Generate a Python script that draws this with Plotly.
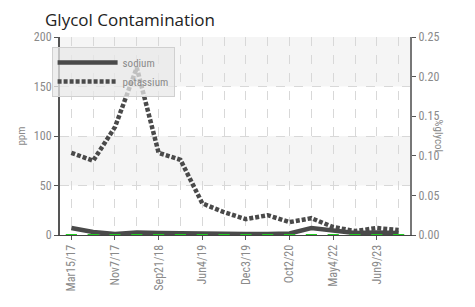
import plotly.graph_objects as go

title_text = "Glycol Contamination"
tick_labels = ["Mar15/17", "Nov7/17", "Sep21/18", "Jun4/19", "Dec3/19", "Oct2/20", "May4/22", "Jun9/23"]
sodium = [7, 3, 1, 2.5, 2, 1.5, 1.5, 1, 1, 1, 1.5, 7, 4, 2, 2.5, 2]
potassium = [83, 75, 109, 169, 83, 76, 32, 23, 16, 20, 13, 17, 8, 4, 7, 5]
glycol = [0] * 16

n = len(sodium)
xs = list(range(n))
tick_pos = xs[::2]

label_font = "Liberation Sans Narrow, Roboto Condensed, Arial Narrow, sans-serif"
gray = "#8a8a8a"

W, H = 467, 299
L, T, R, B = 33, 29, 65, 72
plot_w = W - L - R

fig = go.Figure()
fig.add_trace(go.Scatter(x=xs, y=glycol, yaxis="y2", mode="markers", name="glycol",
                         marker=dict(symbol="line-ew", size=8, line=dict(color="#22cc22", width=2)),
                         showlegend=False, hoverinfo="skip"))
fig.add_trace(go.Scatter(x=xs, y=sodium, mode="lines", name="sodium",
                         line=dict(color="#4a4a4a", width=4.5)))
fig.add_trace(go.Scatter(x=xs, y=potassium, mode="lines", name="potassium",
                         line=dict(color="#4a4a4a", width=4.5, dash="4px,2px")))

shapes = []
for lo, hi in [(150, 200), (50, 100)]:
    shapes.append(dict(type="rect", xref="paper", yref="y", x0=0, x1=1, y0=lo, y1=hi,
                       fillcolor="#f5f5f5", line=dict(width=0), layer="below"))

fig.update_layout(
    width=W, height=H,
    margin=dict(l=L, r=R, t=T, b=B),
    paper_bgcolor="white", plot_bgcolor="white",
    title=dict(text=title_text, x=37 / W, xanchor="left", xref="container",
               y=1 - 12 / H, yanchor="middle", yref="container",
               font=dict(family="Open Sans, sans-serif", size=17, color="#222222")),
    shapes=shapes,
    showlegend=True,
    legend=dict(x=-0.024, y=0.95, xanchor="left", yanchor="top",
                bgcolor="rgba(232,232,232,0.75)", bordercolor="#d0d0d0", borderwidth=1,
                font=dict(family=label_font, size=11, color=gray),
                tracegroupgap=0, itemwidth=60),
    xaxis=dict(range=[-0.52, n - 1 + 0.52], tickmode="array", tickvals=tick_pos, ticktext=tick_labels,
               tickangle=-90, ticks="outside", ticklen=4, tickcolor="#555",
               tickfont=dict(family=label_font, size=12, color=gray),
               showline=True, linecolor="#444", linewidth=1,
               showgrid=True, gridcolor="#d8d8d8", griddash="dash", gridwidth=1,
               minor=dict(tickmode="linear", tick0=0, dtick=1, showgrid=True,
                          gridcolor="#d8d8d8", griddash="dash", gridwidth=1),
               zeroline=False),
    yaxis=dict(range=[0, 200], tickmode="linear", tick0=0, dtick=50,
               ticks="outside", ticklen=4, tickcolor="#555",
               tickfont=dict(family=label_font, size=12, color=gray),
               showline=True, linecolor="#555", linewidth=2,
               showgrid=True, gridcolor="#d8d8d8", griddash="dash",
               zeroline=False,
               title=dict(text="ppm", font=dict(family=label_font, size=11, color=gray), standoff=6)),
    yaxis2=dict(range=[0, 0.25], overlaying="y", side="right", tickmode="linear", tick0=0, dtick=0.05,
                tickformat=".2f", ticks="outside", ticklen=4, tickcolor="#555",
                tickfont=dict(family=label_font, size=12, color=gray),
                showline=True, linecolor="#777", linewidth=2, showgrid=False, zeroline=False),
    annotations=[dict(text="%glycol", xref="paper", yref="paper", x=1 + 40 / plot_w, y=0.5,
                      showarrow=False, textangle=90,
                      font=dict(family=label_font, size=11, color=gray))],
)

fig.write_html("out.html")
